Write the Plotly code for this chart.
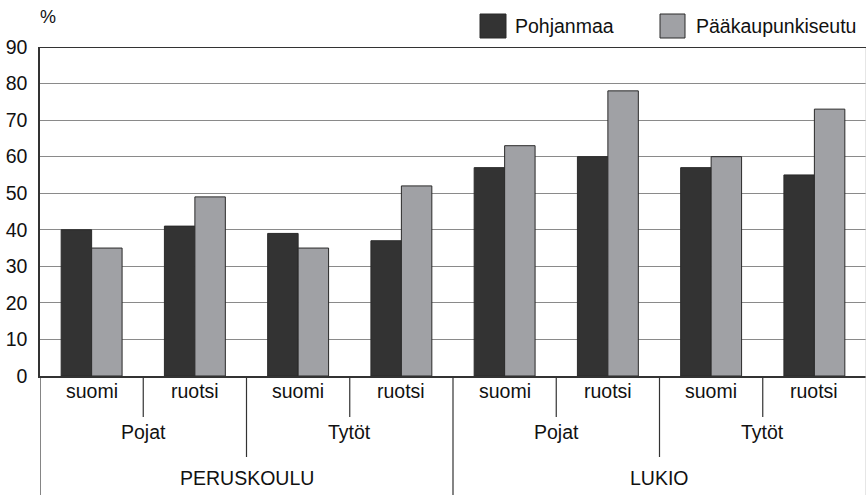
import plotly.graph_objects as go

# ---- data ----
school = ["PERUSKOULU"] * 4 + ["LUKIO"] * 4
gender = ["Pojat", "Pojat", "Tytöt", "Tytöt"] * 2
language = ["suomi", "ruotsi"] * 4
series_names = ["Pohjanmaa", "Pääkaupunkiseutu"]
pohjanmaa = [40, 41, 39, 37, 57, 60, 57, 55]
paakaupunkiseutu = [35, 49, 35, 52, 63, 78, 60, 73]
y_ticks = [0, 10, 20, 30, 40, 50, 60, 70, 80, 90]

FONT = "Liberation Sans, Arial, Helvetica, sans-serif"
FS = 19.5
DARK = "#333333"
GRAY = "#a0a1a5"
n = len(language)
xs = list(range(n))

fig = go.Figure()
fig.add_trace(go.Bar(x=xs, y=pohjanmaa, name=series_names[0],
                     marker=dict(color=DARK, line=dict(color="#2a2a2a", width=1))))
fig.add_trace(go.Bar(x=xs, y=paakaupunkiseutu, name=series_names[1],
                     marker=dict(color=GRAY, line=dict(color="#2a2a2a", width=1))))

# plot geometry (px) for converting paper coords
L, R, T, B = 40, 1, 47, 119
W, H = 867, 495
pw, ph = W - L - R, H - T - B


def py(px_y):
    return (H - B - px_y) / ph


def spans(labels, keys):
    out = []
    start = 0
    for i in range(1, len(labels) + 1):
        if i == len(labels) or keys[i] != keys[start]:
            out.append((start, i - 1, labels[start]))
            start = i
    return out


shapes = []
annotations = []

# level 1: language labels
for i, lab in enumerate(language):
    annotations.append(dict(x=i, y=py(391), xref="x", yref="paper",
                            text=lab, showarrow=False, yanchor="middle",
                            font=dict(size=FS, color="#111", family=FONT)))
# level 2: gender spans (key includes school)
g_keys = [s + g for s, g in zip(school, gender)]
for a, b, lab in spans(gender, g_keys):
    annotations.append(dict(x=(a + b) / 2, y=py(432), xref="x", yref="paper",
                            text=lab, showarrow=False, yanchor="middle",
                            font=dict(size=FS, color="#111", family=FONT)))
# level 3: school spans
for a, b, lab in spans(school, school):
    annotations.append(dict(x=(a + b) / 2, y=py(478), xref="x", yref="paper",
                            text=lab, showarrow=False, yanchor="middle",
                            font=dict(size=FS, color="#111", family=FONT)))

# divider lines
for i in range(n):
    left = i - 0.5
    if i == 0 or school[i] != school[i - 1]:
        y_end = py(H)
    elif gender[i] != gender[i - 1]:
        y_end = py(457)
    else:
        y_end = py(417)
    shapes.append(dict(type="line", xref="x", yref="paper", x0=left, x1=left,
                       y0=0, y1=y_end, line=dict(color=DARK, width=1.2)))
# right edge
shapes.append(dict(type="line", xref="x", yref="paper", x0=n - 0.5, x1=n - 0.5,
                   y0=1, y1=py(H), line=dict(color="#cccccc", width=1)))
# top frame line
shapes.append(dict(type="line", xref="paper", yref="y", x0=0, x1=1,
                   y0=y_ticks[-1], y1=y_ticks[-1], line=dict(color=DARK, width=2)))

# manual legend
leg = [(480, 506, DARK, series_names[0], 513), (660, 685, GRAY, series_names[1], 694)]
for x0, x1, col, lab, tx in leg:
    shapes.append(dict(type="rect", xref="paper", yref="paper",
                       x0=(x0 - L) / pw, x1=(x1 - L) / pw, y0=py(38), y1=py(14),
                       fillcolor=col, line=dict(color="#2a2a2a", width=1)))
    annotations.append(dict(x=(tx - L) / pw, y=py(26), xref="paper", yref="paper",
                            text=lab, showarrow=False, xanchor="left", yanchor="middle",
                            font=dict(size=FS, color="#111", family=FONT)))

# % label
annotations.append(dict(x=(48 - L) / pw, y=py(17), xref="paper", yref="paper",
                        text="%", showarrow=False, xanchor="center", yanchor="middle",
                        font=dict(size=18, color="#111", family=FONT)))

fig.update_layout(
    width=W, height=H,
    margin=dict(l=L, r=R, t=T, b=B, pad=0),
    paper_bgcolor="white", plot_bgcolor="white",
    barmode="group", bargap=0.41, bargroupgap=0,
    showlegend=False,
    font=dict(family=FONT, size=FS, color="#111"),
    shapes=shapes, annotations=annotations,
)
fig.update_xaxes(range=[-0.5, n - 0.5], tickmode="array", tickvals=xs,
                 showticklabels=False,
                 showgrid=False, showline=True, linecolor=DARK, linewidth=1.5,
                 ticks="", zeroline=False, automargin=False)
fig.update_yaxes(range=[0, 90], tickmode="array", tickvals=y_ticks,
                 showgrid=True, gridcolor="#8a8a8a", gridwidth=1.2,
                 showline=True, linecolor=DARK, linewidth=1.5, ticks="",
                 tickfont=dict(size=FS, family=FONT, color="#111"),
                 ticklabelstandoff=7, zeroline=False, automargin=False)

fig.write_html("out.html", config={"displayModeBar": False},
               post_script="document.body.style.margin='0px';document.body.style.overflow='hidden';")
